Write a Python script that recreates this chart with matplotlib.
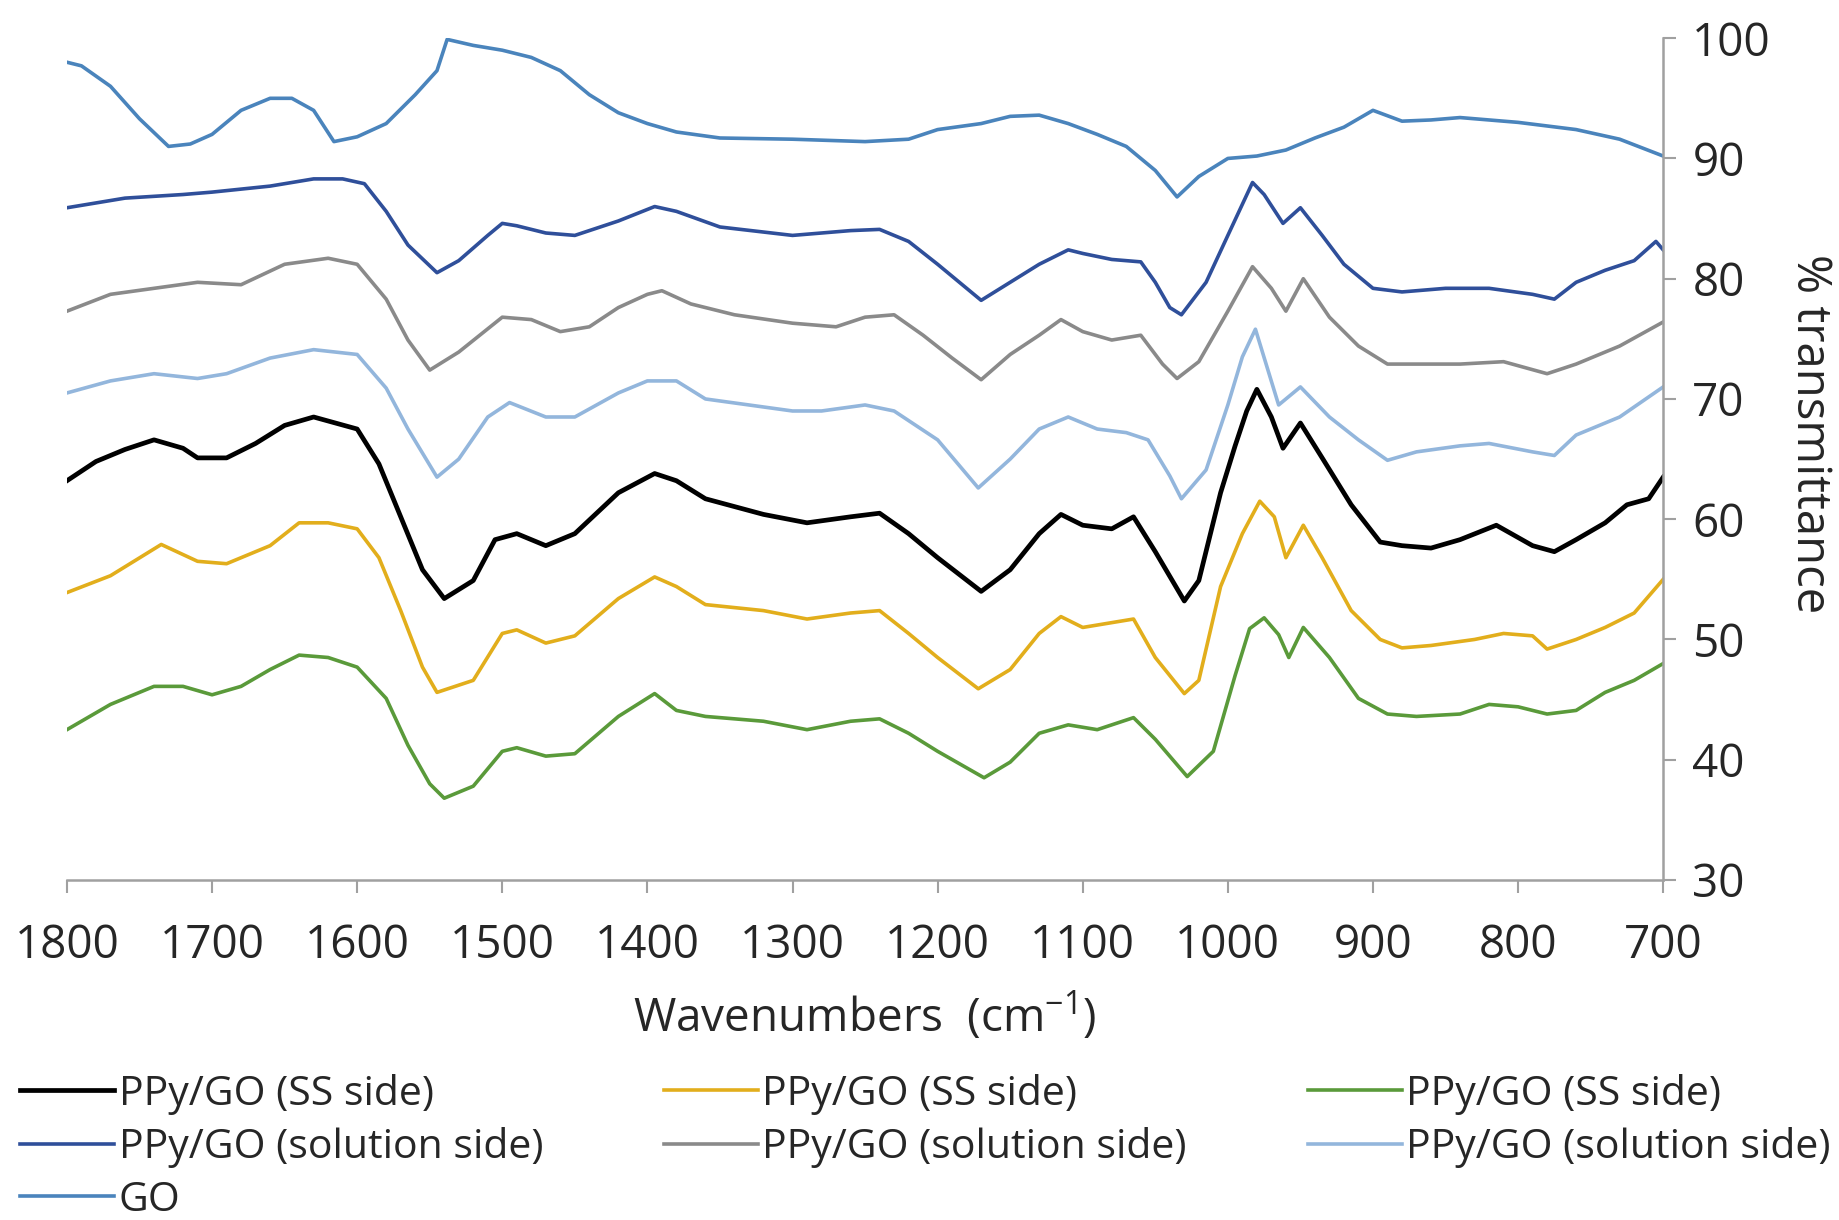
import matplotlib.pyplot as plt

go_wn = [1800, 1790, 1770, 1750, 1730, 1715, 1700, 1680, 1660, 1645, 1630, 1616, 1600, 1580,
         1560, 1545, 1538, 1520, 1500, 1480, 1460, 1440, 1420, 1400, 1380, 1350, 1300, 1250,
         1220, 1200, 1170, 1150, 1130, 1110, 1090, 1070, 1050, 1035, 1020, 1000, 980, 960,
         940, 920, 900, 880, 860, 840, 800, 760, 730, 700]
go_t = [98.0, 97.7, 96.0, 93.3, 91.0, 91.2, 92.0, 94.0, 95.0, 95.0, 94.0, 91.4, 91.8, 92.9,
        95.3, 97.3, 99.9, 99.4, 99.0, 98.4, 97.3, 95.3, 93.8, 92.9, 92.2, 91.7, 91.6, 91.4,
        91.6, 92.4, 92.9, 93.5, 93.6, 92.9, 92.0, 91.0, 89.0, 86.8, 88.5, 90.0, 90.2, 90.7,
        91.7, 92.6, 94.0, 93.1, 93.2, 93.4, 93.0, 92.4, 91.6, 90.2]

sol1_wn = [1800, 1760, 1720, 1700, 1660, 1630, 1610, 1595, 1580, 1565, 1545, 1530, 1510, 1500,
           1490, 1470, 1450, 1420, 1395, 1380, 1350, 1300, 1260, 1240, 1220, 1200, 1170, 1150,
           1130, 1110, 1100, 1080, 1060, 1050, 1040, 1032, 1015, 1000, 983, 975, 962, 950,
           935, 920, 900, 880, 850, 820, 790, 775, 760, 740, 720, 705, 700]
sol1_t = [85.9, 86.7, 87.0, 87.2, 87.7, 88.3, 88.3, 87.9, 85.6, 82.8, 80.5, 81.5, 83.6, 84.6,
          84.4, 83.8, 83.6, 84.8, 86.0, 85.6, 84.3, 83.6, 84.0, 84.1, 83.1, 81.2, 78.2, 79.7,
          81.2, 82.4, 82.1, 81.6, 81.4, 79.7, 77.6, 77.0, 79.7, 83.6, 88.0, 87.0, 84.6, 85.9,
          83.6, 81.2, 79.2, 78.9, 79.2, 79.2, 78.7, 78.3, 79.7, 80.7, 81.5, 83.1, 82.4]

sol2_wn = [1800, 1770, 1740, 1710, 1680, 1650, 1620, 1600, 1580, 1565, 1550, 1530, 1500, 1480,
           1460, 1440, 1420, 1400, 1390, 1370, 1340, 1300, 1270, 1250, 1230, 1210, 1190, 1170,
           1150, 1130, 1115, 1100, 1080, 1060, 1045, 1035, 1020, 1000, 983, 970, 960, 948,
           930, 910, 890, 870, 840, 810, 780, 760, 730, 700]
sol2_t = [77.3, 78.7, 79.2, 79.7, 79.5, 81.2, 81.7, 81.2, 78.3, 74.9, 72.4, 73.9, 76.8, 76.6,
          75.6, 76.0, 77.6, 78.7, 79.0, 77.9, 77.0, 76.3, 76.0, 76.8, 77.0, 75.3, 73.4, 71.6,
          73.7, 75.3, 76.6, 75.6, 74.9, 75.3, 72.9, 71.7, 73.1, 77.3, 81.0, 79.2, 77.3, 80.0,
          76.8, 74.4, 72.9, 72.9, 72.9, 73.1, 72.1, 72.9, 74.4, 76.4]

sol3_wn = [1800, 1770, 1740, 1710, 1690, 1660, 1630, 1600, 1580, 1565, 1545, 1530, 1510, 1495,
           1470, 1450, 1420, 1400, 1380, 1360, 1330, 1300, 1280, 1250, 1230, 1200, 1172, 1150,
           1130, 1110, 1090, 1070, 1055, 1040, 1032, 1015, 1000, 990, 981, 965, 950, 930,
           910, 890, 870, 840, 820, 790, 775, 760, 730, 700]
sol3_t = [70.5, 71.5, 72.1, 71.7, 72.1, 73.4, 74.1, 73.7, 70.9, 67.5, 63.5, 65.0, 68.5, 69.7,
          68.5, 68.5, 70.5, 71.5, 71.5, 70.0, 69.5, 69.0, 69.0, 69.5, 69.0, 66.6, 62.6, 65.0,
          67.5, 68.5, 67.5, 67.2, 66.6, 63.6, 61.7, 64.1, 69.5, 73.5, 75.8, 69.5, 71.0, 68.5,
          66.6, 64.9, 65.6, 66.1, 66.3, 65.6, 65.3, 67.0, 68.5, 71.0]

ss1_wn = [1800, 1780, 1760, 1740, 1720, 1710, 1690, 1670, 1650, 1630, 1600, 1585, 1570, 1555,
          1540, 1520, 1505, 1490, 1470, 1450, 1420, 1395, 1380, 1360, 1320, 1290, 1260, 1240,
          1220, 1200, 1170, 1150, 1130, 1115, 1100, 1080, 1065, 1050, 1030, 1020, 1005, 995,
          987, 980, 970, 962, 950, 935, 915, 895, 880, 860, 840, 815, 790, 775, 760, 740,
          725, 710, 700]
ss1_t = [63.2, 64.8, 65.8, 66.6, 65.9, 65.1, 65.1, 66.3, 67.8, 68.5, 67.5, 64.6, 60.2, 55.8,
         53.4, 54.9, 58.3, 58.8, 57.8, 58.8, 62.2, 63.8, 63.2, 61.7, 60.4, 59.7, 60.2, 60.5,
         58.8, 56.8, 54.0, 55.8, 58.8, 60.4, 59.5, 59.2, 60.2, 57.3, 53.2, 54.9, 62.2, 66.1,
         69.0, 70.8, 68.5, 65.9, 68.0, 65.1, 61.2, 58.1, 57.8, 57.6, 58.3, 59.5, 57.8, 57.3,
         58.3, 59.7, 61.2, 61.7, 63.5]

ss2_wn = [1800, 1770, 1735, 1710, 1690, 1660, 1640, 1620, 1600, 1585, 1570, 1555, 1545, 1520,
          1500, 1490, 1470, 1450, 1420, 1395, 1380, 1360, 1320, 1290, 1260, 1240, 1220, 1200,
          1172, 1150, 1130, 1115, 1100, 1080, 1065, 1050, 1030, 1020, 1005, 990, 978, 968,
          960, 948, 935, 915, 895, 880, 860, 830, 810, 790, 780, 760, 740, 720, 700]
ss2_t = [53.9, 55.3, 57.9, 56.5, 56.3, 57.8, 59.7, 59.7, 59.2, 56.8, 52.4, 47.7, 45.6, 46.6,
         50.5, 50.8, 49.7, 50.3, 53.4, 55.2, 54.4, 52.9, 52.4, 51.7, 52.2, 52.4, 50.5, 48.5,
         45.9, 47.5, 50.5, 51.9, 51.0, 51.4, 51.7, 48.5, 45.5, 46.6, 54.4, 58.8, 61.5, 60.2,
         56.8, 59.5, 56.8, 52.4, 50.0, 49.3, 49.5, 50.0, 50.5, 50.3, 49.2, 50.0, 51.0, 52.2,
         55.0]

ss3_wn = [1800, 1770, 1740, 1720, 1700, 1680, 1660, 1640, 1620, 1600, 1580, 1565, 1550, 1540,
          1520, 1500, 1490, 1470, 1450, 1420, 1395, 1380, 1360, 1320, 1290, 1260, 1240, 1220,
          1200, 1168, 1150, 1130, 1110, 1090, 1065, 1050, 1028, 1010, 995, 985, 975, 965,
          958, 948, 930, 910, 890, 870, 840, 820, 800, 780, 760, 740, 720, 700]
ss3_t = [42.5, 44.6, 46.1, 46.1, 45.4, 46.1, 47.5, 48.7, 48.5, 47.7, 45.1, 41.2, 38.0, 36.8,
         37.8, 40.7, 41.0, 40.3, 40.5, 43.6, 45.5, 44.1, 43.6, 43.2, 42.5, 43.2, 43.4, 42.2,
         40.7, 38.5, 39.8, 42.2, 42.9, 42.5, 43.5, 41.7, 38.6, 40.7, 47.0, 50.9, 51.8, 50.4,
         48.5, 51.0, 48.5, 45.1, 43.8, 43.6, 43.8, 44.6, 44.4, 43.8, 44.1, 45.6, 46.6, 48.0]

labels = ['PPy/GO (SS side)', 'PPy/GO (SS side)', 'PPy/GO (SS side)',
          'PPy/GO (solution side)', 'PPy/GO (solution side)', 'PPy/GO (solution side)', 'GO']
colors = ['#000000', '#E2AE1C', '#5A9A3A', '#2F4F9A', '#8A8A8A', '#93B6DC', '#4A84BC']

plt.rcParams['font.family'] = ['Open Sans', 'DejaVu Sans']
plt.rcParams['mathtext.fontset'] = 'custom'
plt.rcParams['mathtext.rm'] = 'Open Sans'

fig = plt.figure(figsize=(18.39, 12.2), dpi=100)
ax = fig.add_axes([0.0364, 0.2787, 0.868, 0.690])

series = [(ss1_wn, ss1_t), (ss2_wn, ss2_t), (ss3_wn, ss3_t),
          (sol1_wn, sol1_t), (sol2_wn, sol2_t), (sol3_wn, sol3_t), (go_wn, go_t)]
handles = []
for i, (wn, t) in enumerate(series):
    lw = 3.4 if i == 0 else 2.6
    h, = ax.plot(wn, t, color=colors[i], lw=lw, label=labels[i])
    handles.append(h)

ax.set_xlim(1800, 700)
ax.set_ylim(30, 100)
ax.set_xticks(range(1800, 699, -100))
ax.set_yticks(range(30, 101, 10))

# axis styling: y axis on the right, grey spines
for s in ['top', 'left']:
    ax.spines[s].set_visible(False)
for s in ['right', 'bottom']:
    ax.spines[s].set_color('#A0A0A0')
    ax.spines[s].set_linewidth(1.8)
ax.yaxis.tick_right()
ax.tick_params(axis='both', colors='#A0A0A0', labelcolor='#262626',
               labelsize=33, width=1.5, length=9)
ax.tick_params(axis='y', pad=12)
ax.tick_params(axis='x', pad=22)

ax.set_xlabel(r'Wavenumbers  (cm$^{\mathregular{-1}}$)', fontsize=33, color='#262626')
ax.xaxis.set_label_coords(0.5, -0.13)
ax.set_ylabel('% transmittance', fontsize=34, color='#262626',
              rotation=270, va='center', ha='center')
ax.yaxis.set_label_position('right')
ax.yaxis.set_label_coords(1.107, 0.53)

# row-major legend order
order = [0, 3, 6, 1, 4, 2, 5]
fig.legend([handles[k] for k in order], [labels[k] for k in order],
           loc='upper left', bbox_to_anchor=(0.011, 0.12), ncol=3, frameon=False,
           fontsize=29.5, handlelength=2.3, handletextpad=0.1, columnspacing=2.95,
           labelspacing=0.3, borderpad=0, borderaxespad=0, labelcolor='#262626')

plt.savefig('out.png', dpi=100)
